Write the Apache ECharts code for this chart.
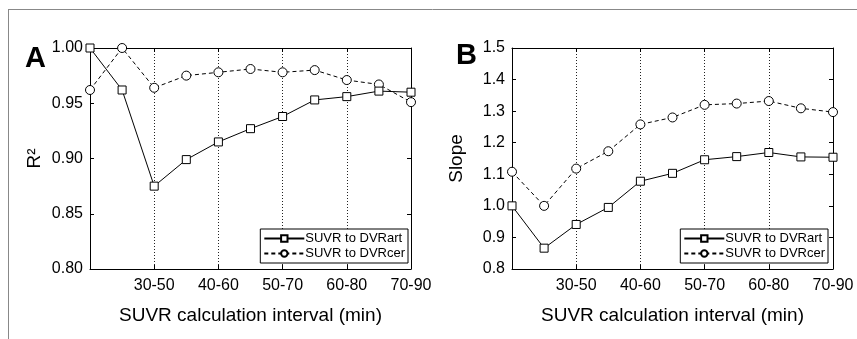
<!DOCTYPE html>
<html>
<head>
<meta charset="utf-8">
<script src="https://cdn.jsdelivr.net/npm/echarts@6/dist/echarts.min.js"></script>
<style>
  html, body { margin: 0; padding: 0; background: #fff; }
  #chart { width: 857px; height: 339px; }
</style>
</head>
<body>
<div id="chart"></div>
<script>
// SUVR calculation intervals (min)
const intervals = ['20-40', '25-45', '30-50', '35-55', '40-60', '45-65', '50-70', '55-75', '60-80', '65-85', '70-90']
// panel A: R^2
const r2Art = [1.000, 0.962, 0.875, 0.899, 0.915, 0.927, 0.938, 0.953, 0.956, 0.961, 0.960]
const r2Cer = [0.962, 1.000, 0.964, 0.975, 0.978, 0.981, 0.978, 0.980, 0.971, 0.967, 0.951]
// panel B: slope
const slopeArt = [1.000, 0.866, 0.941, 0.995, 1.078, 1.103, 1.146, 1.156, 1.169, 1.155, 1.154]
const slopeCer = [1.108, 1.000, 1.118, 1.173, 1.258, 1.280, 1.320, 1.324, 1.332, 1.309, 1.297]

const artName = 'SUVR to DVRart'
const cerName = 'SUVR to DVRcer'
const font = 'Liberation Sans, Arial, sans-serif'

const chart = echarts.init(document.getElementById('chart'))

const shown = idx => idx % 2 === 0 && idx > 0
const gridLine = idx => idx % 2 === 0 && idx > 0 && idx < intervals.length - 1

function xAxes(gridIndex) {
  return [
    {
      type: 'category',
      gridIndex,
      data: intervals,
      boundaryGap: false,
      name: 'SUVR calculation interval (min)',
      nameLocation: 'middle',
      nameGap: 37,
      nameTextStyle: { fontSize: 19, color: '#000', fontFamily: font },
      axisLine: { lineStyle: { color: '#000', width: 1 } },
      axisTick: { inside: true, length: 4, interval: shown, lineStyle: { color: '#000' } },
      axisLabel: { interval: shown, fontSize: 16, color: '#000', fontFamily: font, margin: 9 },
      splitLine: { show: true, interval: gridLine, lineStyle: { color: '#222', type: [1, 2], width: 1 } }
    },
    {
      type: 'category',
      gridIndex,
      position: 'top',
      data: intervals,
      boundaryGap: false,
      axisLine: { lineStyle: { color: '#000', width: 1 } },
      axisTick: { inside: true, length: 4, interval: shown, lineStyle: { color: '#000' } },
      axisLabel: { show: false },
      splitLine: { show: false }
    }
  ]
}

function yAxes(gridIndex, min, max, interval, digits, name) {
  return [
    {
      type: 'value',
      gridIndex,
      min, max, interval,
      name,
      nameLocation: 'middle',
      nameGap: 46,
      nameTextStyle: { fontSize: 19, color: '#000', fontFamily: font },
      axisLine: { show: true, lineStyle: { color: '#000', width: 1 } },
      axisTick: { show: true, inside: true, length: 4, lineStyle: { color: '#000' } },
      axisLabel: { fontSize: 16, color: '#000', fontFamily: font, margin: 7, formatter: v => v.toFixed(digits) },
      splitLine: { show: false }
    },
    {
      type: 'value',
      gridIndex,
      position: 'right',
      min, max, interval,
      axisLine: { show: true, lineStyle: { color: '#000', width: 1 } },
      axisTick: { show: true, inside: true, length: 4, lineStyle: { color: '#000' } },
      axisLabel: { show: false },
      splitLine: { show: false }
    }
  ]
}

function line(name, data, xAxisIndex, yAxisIndex, dashed) {
  return {
    name,
    type: 'line',
    data,
    xAxisIndex,
    yAxisIndex,
    symbol: dashed ? 'circle' : 'rect',
    symbolSize: dashed ? 9 : 8,
    itemStyle: { color: '#fff', borderColor: '#000', borderWidth: 1 },
    lineStyle: { color: '#000', width: 1, type: dashed ? [4, 3] : 'solid' },
    emphasis: { disabled: true },
    animation: false,
    z: dashed ? 3 : 4
  }
}

function legend(right) {
  return {
    right,
    top: 229,
    orient: 'vertical',
    data: [artName, cerName],
    itemWidth: 40,
    itemHeight: 8,
    itemGap: 2,
    padding: [3, 3, 3, 3],
    backgroundColor: '#fff',
    borderColor: '#000',
    borderWidth: 1,
    borderRadius: 0,
    textStyle: { fontSize: 13, color: '#000', fontFamily: font, padding: [0, 0, 0, -4] }
  }
}

chart.setOption({
  animation: false,
  textStyle: { fontFamily: font },
  title: [
    { text: 'A', left: 20, top: 39, textStyle: { fontSize: 29, fontWeight: 'bold', color: '#000', fontFamily: font } },
    { text: 'B', left: 451, top: 36, textStyle: { fontSize: 29, fontWeight: 'bold', color: '#000', fontFamily: font } }
  ],
  grid: [
    { left: 90, right: 446, top: 48, bottom: 70 },
    { left: 512, right: 24, top: 48, bottom: 70 }
  ],
  xAxis: [...xAxes(0), ...xAxes(1)],
  yAxis: [
    ...yAxes(0, 0.8, 1.0, 0.05, 2, 'R²'),
    ...yAxes(1, 0.8, 1.5, 0.1, 1, 'Slope')
  ],
  legend: [legend(449), legend(29)],
  series: [
    line(artName, r2Art, 0, 0, false),
    line(cerName, r2Cer, 0, 0, true),
    line(artName, slopeArt, 2, 2, false),
    line(cerName, slopeCer, 2, 2, true)
  ],
  graphic: [
    { type: 'line', shape: { x1: 8, y1: 9.5, x2: 857, y2: 9.5 }, style: { stroke: '#888', lineWidth: 1 } },
    { type: 'line', shape: { x1: 8.5, y1: 9, x2: 8.5, y2: 339 }, style: { stroke: '#888', lineWidth: 1 } }
  ]
})
</script>
</body>
</html>
